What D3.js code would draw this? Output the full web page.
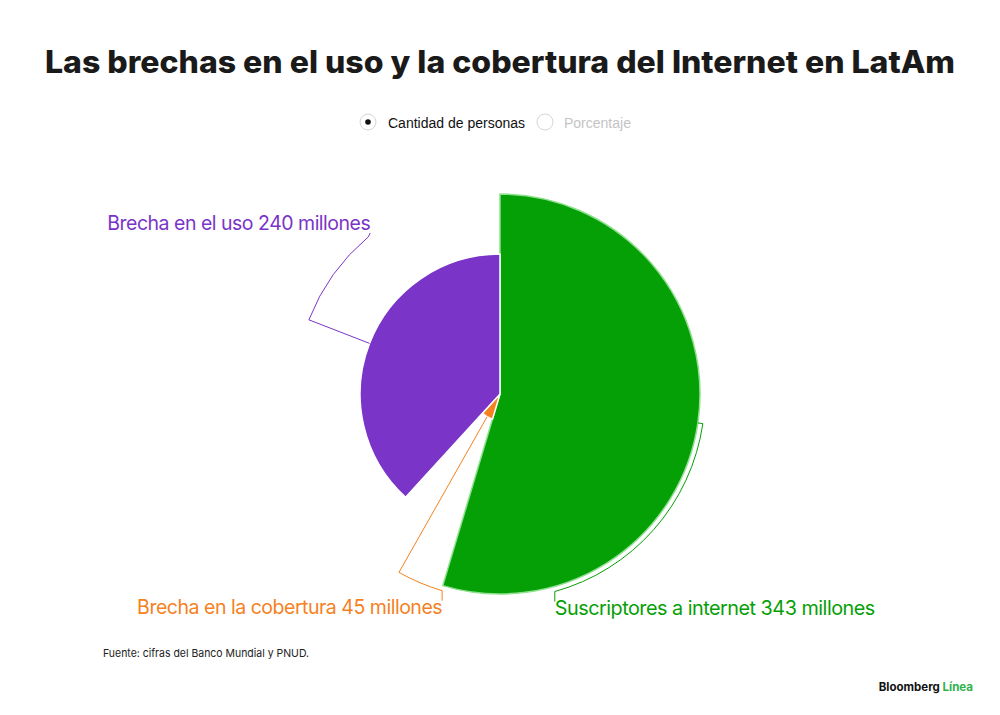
<!DOCTYPE html>
<html>
<meta charset="utf-8">
<style>
  body { margin: 0; background: #fff; }
</style>
<body>
<div id="chart"></div>
<script src="https://cdn.jsdelivr.net/npm/d3@7"></script>
<script>
  // data (millones de personas)
  var names = ["Suscriptores a internet", "Brecha en la cobertura", "Brecha en el uso"];
  var values = [343, 45, 240];
  var colors = ["#05a005", "#f5821f", "#7a35c8"];
  // angle (degrees, clockwise from top) where each leader arc stops
  var labelAngles = [164.5, 196.4, 320];
  var labelWidths = [320, 305, 263];

  var W = 1000, H = 715;
  var cx = 500, cy = 394, rMax = 200, rLead = 205;

  var svg = d3.select("#chart").append("svg")
    .attr("width", W).attr("height", H);

  // title
  svg.append("text")
    .attr("x", W / 2).attr("y", 73)
    .attr("text-anchor", "middle")
    .attr("textLength", 910).attr("lengthAdjust", "spacingAndGlyphs")
    .style("font-family", "Inter, 'Liberation Sans', sans-serif")
    .style("font-weight", 800)
    .style("font-size", "31px")
    .style("fill", "#1a1a1a")
    .text("Las brechas en el uso y la cobertura del Internet en LatAm");

  // radio legend
  var legend = svg.append("g").style("font-family", "'Liberation Sans', Arial, sans-serif").style("font-size", "14px");
  legend.append("circle").attr("cx", 368).attr("cy", 122).attr("r", 8)
    .attr("fill", "#fff").attr("stroke", "#d6d6d6").attr("stroke-width", 1);
  legend.append("circle").attr("cx", 368).attr("cy", 122).attr("r", 2.8).attr("fill", "#111");
  legend.append("text").attr("x", 388).attr("y", 127.5).attr("fill", "#111").text("Cantidad de personas");
  legend.append("circle").attr("cx", 545).attr("cy", 122).attr("r", 8)
    .attr("fill", "#fff").attr("stroke", "#d6d6d6").attr("stroke-width", 1);
  legend.append("text").attr("x", 564).attr("y", 127.5).attr("fill", "#c4c4c4").text("Porcentaje");

  // radius grows linearly with the value
  var r = d3.scaleLinear().domain([0, d3.max(values)]).range([0, rMax]);

  var data = values.map(function (v, i) {
    return { name: names[i], value: v, color: colors[i], la: labelAngles[i], lw: labelWidths[i] };
  });

  var pie = d3.pie().value(function (d) { return d.value; }).sort(null);
  var arcs = pie(data);

  var arc = d3.arc().innerRadius(0).outerRadius(function (d) { return r(d.data.value); });

  var g = svg.append("g").attr("transform", "translate(" + cx + "," + cy + ")");

  g.selectAll("path.slice")
    .data(arcs)
    .enter().append("path")
    .attr("class", "slice")
    .attr("d", arc)
    .attr("fill", function (d) { return d.data.color; })
    .attr("stroke", function (d, i) { return i === 0 ? "#8fe08f" : "#fff"; })
    .attr("stroke-width", 1.5);

  function pt(a, rad) {
    return [Math.sin(a) * rad, -Math.cos(a) * rad];
  }

  // leaders: radial line from slice edge, arc along rLead, then small tick to the label
  arcs.forEach(function (d) {
    var mid = (d.startAngle + d.endAngle) / 2;
    var end = d.data.la * Math.PI / 180;
    var p0 = pt(mid, r(d.data.value));
    var p1 = pt(mid, rLead);
    var p2 = pt(end, rLead);
    var sweep = end > mid ? 1 : 0;
    var up = Math.cos(end) > 0;
    var p3 = up ? [p2[0] + 2, p2[1] - 4] : [p2[0], p2[1] + 10];

    var path = "M" + p0 + "L" + p1 +
      "A" + rLead + "," + rLead + " 0 0," + sweep + " " + p2 +
      "L" + p3;

    g.append("path")
      .attr("d", path)
      .attr("fill", "none")
      .attr("stroke", d.data.color)
      .attr("stroke-width", 1);

    var left = Math.sin(end) < 0;
    var tx = p3[0] + (left ? 0 : 0);
    var ty = up ? p3[1] - 3 : p3[1] + 13;
    g.append("text")
      .attr("x", tx).attr("y", ty)
      .attr("text-anchor", left ? "end" : "start")
      .attr("textLength", d.data.lw).attr("lengthAdjust", "spacingAndGlyphs")
      .style("font-family", "Inter, 'Liberation Sans', sans-serif")
      .style("font-size", "20px")
      .style("letter-spacing", "-0.5px")
      .attr("fill", d.data.color)
      .text(d.data.name + " " + d.data.value + " millones");
  });

  // orange tip marker on the tiny slice
  // footer
  svg.append("text")
    .attr("x", 103).attr("y", 657)
    .attr("textLength", 206).attr("lengthAdjust", "spacingAndGlyphs")
    .style("font-family", "Inter, 'Liberation Sans', sans-serif")
    .style("font-size", "11px")
    .attr("fill", "#222")
    .text("Fuente: cifras del Banco Mundial y PNUD.");

  var brand = svg.append("text")
    .attr("x", 973).attr("y", 691)
    .attr("text-anchor", "end")
    .style("font-family", "Inter, 'Liberation Sans', sans-serif")
    .style("font-size", "11.5px")
    .style("font-weight", 700);
  brand.append("tspan").attr("fill", "#111").text("Bloomberg ");
  brand.append("tspan").attr("fill", "#2db34a").text("Línea");
</script>
</body>
</html>
